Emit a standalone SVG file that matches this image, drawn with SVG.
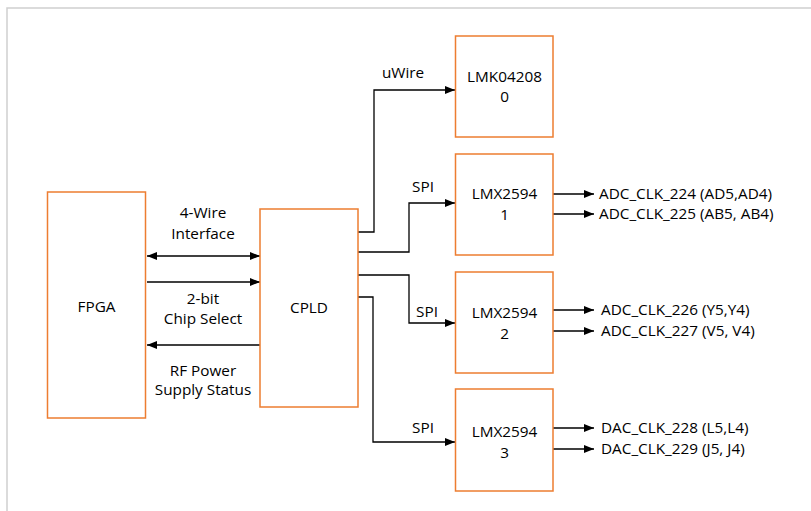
<svg xmlns="http://www.w3.org/2000/svg" width="811" height="511" viewBox="0 0 811 511">
<defs>
<marker id="ah" viewBox="0 0 10 8" refX="10" refY="4" markerWidth="10" markerHeight="8" markerUnits="userSpaceOnUse" orient="auto-start-reverse">
<path d="M0,0 L10,4 L0,8 Z" fill="#000"/>
</marker>
<style>
.box{fill:#fff;stroke:#ED7D31;stroke-width:1.5}
.ln{fill:none;stroke:#000;stroke-width:1.3}
text{font-family:"Open Sans","Liberation Sans",sans-serif;font-size:15.3px;fill:#000}
.c{text-anchor:middle}
</style>
</defs>
<rect x="0" y="0" width="811" height="511" fill="#fff"/>
<path d="M7,511 V8 H811" fill="none" stroke="#d0d0d0" stroke-width="1.5"/>

<g id="connectors">
<line class="ln" x1="147" y1="256" x2="260" y2="256" marker-start="url(#ah)" marker-end="url(#ah)"/>
<line class="ln" x1="147" y1="282" x2="260" y2="282" marker-end="url(#ah)"/>
<line class="ln" x1="260" y1="345" x2="147" y2="345" marker-end="url(#ah)"/>
<polyline class="ln" points="358,232 374,232 374,90 455,90" marker-end="url(#ah)"/>
<polyline class="ln" points="358,252 409,252 409,203 455,203" marker-end="url(#ah)"/>
<polyline class="ln" points="358,275 409,275 409,323 455,323" marker-end="url(#ah)"/>
<polyline class="ln" points="358,297 373,297 373,442 455,442" marker-end="url(#ah)"/>
<line class="ln" x1="553" y1="194" x2="594" y2="194" marker-end="url(#ah)"/>
<line class="ln" x1="553" y1="214" x2="594" y2="214" marker-end="url(#ah)"/>
<line class="ln" x1="553" y1="310" x2="594" y2="310" marker-end="url(#ah)"/>
<line class="ln" x1="553" y1="331" x2="594" y2="331" marker-end="url(#ah)"/>
<line class="ln" x1="553" y1="428" x2="594" y2="428" marker-end="url(#ah)"/>
<line class="ln" x1="553" y1="449" x2="594" y2="449" marker-end="url(#ah)"/>
<text class="c" x="203" y="218">4-Wire</text>
<text class="c" x="203" y="239">Interface</text>
<text class="c" x="203" y="304">2-bit</text>
<text class="c" x="203" y="324">Chip Select</text>
<text class="c" x="203" y="376">RF Power</text>
<text class="c" x="203" y="395">Supply Status</text>
<text class="c" x="403" y="78">uWire</text>
<text class="c" x="423" y="192">SPI</text>
<text class="c" x="427" y="317">SPI</text>
<text class="c" x="423" y="433">SPI</text>
<text x="599" y="199">ADC_CLK_224 (AD5,AD4)</text>
<text x="599" y="219">ADC_CLK_225 (AB5, AB4)</text>
<text x="601" y="315">ADC_CLK_226 (Y5,Y4)</text>
<text x="601" y="336">ADC_CLK_227 (V5, V4)</text>
<text x="601" y="433">DAC_CLK_228 (L5,L4)</text>
<text x="601" y="454">DAC_CLK_229 (J5, J4)</text>
</g>

<g id="fpga">
<rect class="box" x="47.5" y="192" width="98" height="226"/>
<text class="c" x="96.5" y="312">FPGA</text>
</g>
<g id="cpld">
<rect class="box" x="260" y="209" width="98" height="198"/>
<text class="c" x="309" y="313">CPLD</text>
</g>
<g id="lmk0">
<rect class="box" x="455.5" y="36" width="97.5" height="101"/>
<text class="c" x="504.5" y="82">LMK04208</text>
<text class="c" x="504.5" y="102">0</text>
</g>
<g id="lmx1">
<rect class="box" x="455.5" y="154" width="97.5" height="101"/>
<text class="c" x="504.5" y="199">LMX2594</text>
<text class="c" x="504.5" y="220">1</text>
</g>
<g id="lmx2">
<rect class="box" x="455.5" y="272" width="97.5" height="101"/>
<text class="c" x="504.5" y="318">LMX2594</text>
<text class="c" x="504.5" y="339">2</text>
</g>
<g id="lmx3">
<rect class="box" x="455.5" y="389" width="97.5" height="102"/>
<text class="c" x="504.5" y="437">LMX2594</text>
<text class="c" x="504.5" y="458">3</text>
</g>
</svg>
